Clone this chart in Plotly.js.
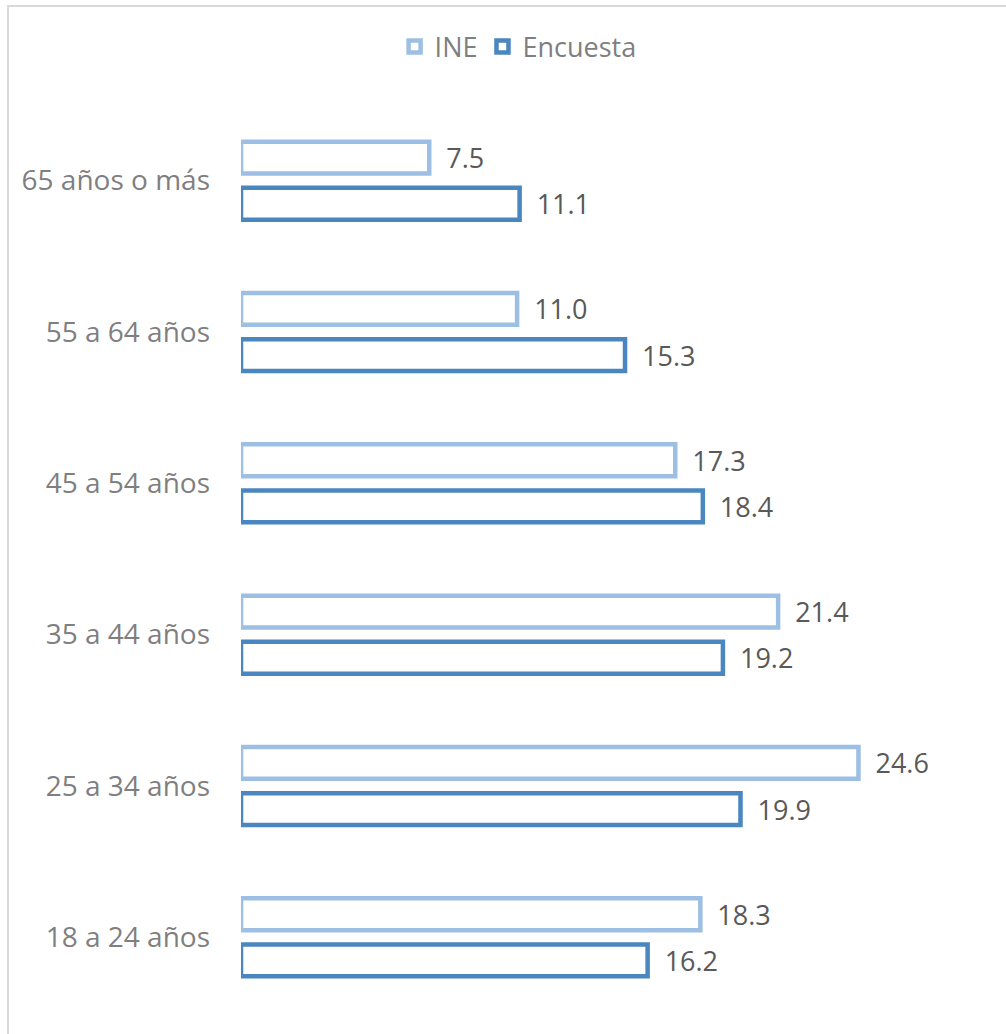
<!DOCTYPE html>
<html>
<head>
<meta charset="utf-8">
<script src="https://cdn.plot.ly/plotly-3.0.1.min.js"></script>
<style>
  html, body { margin: 0; padding: 0; background: #fff; overflow: hidden; }
  #chart { position: absolute; left: 0; top: 0; width: 1006px; height: 1034px; }
  #frame { position: absolute; left: 7px; top: 5px; width: 1200px; height: 1200px;
           border-left: 2px solid #D9D9D9; border-top: 2px solid #D9D9D9; pointer-events: none; }
</style>
</head>
<body>
<div id="chart"></div>
<div id="frame"></div>
<script>
const categories = ["18 a 24 años", "25 a 34 años", "35 a 44 años", "45 a 54 años", "55 a 64 años", "65 años o más"];
const ineValues = [18.3, 24.6, 21.4, 17.3, 11.0, 7.5];
const encuestaValues = [16.2, 19.9, 19.2, 18.4, 15.3, 11.1];
const seriesNames = ["INE", "Encuesta"];

const font = "'Open Sans', 'Noto Sans', sans-serif";
const labelFmt = v => "\u00a0\u00a0" + v.toFixed(1);

const traces = [
  {
    type: "bar", orientation: "h", name: seriesNames[1], legendrank: 2,
    y: categories, x: encuestaValues,
    text: encuestaValues.map(labelFmt), textposition: "outside", constraintext: "none",
    outsidetextfont: { family: font, size: 27, color: "#595959" },
    cliponaxis: false, hoverinfo: "x+y",
    marker: { color: "rgba(255,255,255,1)", line: { color: "#4A86C0", width: 4.5 } }
  },
  {
    type: "bar", orientation: "h", name: seriesNames[0], legendrank: 1,
    y: categories, x: ineValues,
    text: ineValues.map(labelFmt), textposition: "outside", constraintext: "none",
    outsidetextfont: { family: font, size: 27, color: "#595959" },
    cliponaxis: false, hoverinfo: "x+y",
    marker: { color: "rgba(255,255,255,1)", line: { color: "#9DBFE3", width: 4.5 } }
  }
];

const layout = {
  width: 1006, height: 1034,
  margin: { l: 241, r: 12, t: 105, b: 21 },
  paper_bgcolor: "#ffffff", plot_bgcolor: "#ffffff",
  barmode: "group", bargap: 0.39, bargroupgap: 0.31,
  showlegend: true,
  legend: {
    orientation: "h", xref: "container", yref: "container",
    x: 0.515, xanchor: "center", y: 0.9545, yanchor: "middle",
    font: { family: font, size: 27, color: "#7F7F7F" },
    traceorder: "normal"
  },
  xaxis: { range: [0, 30], visible: false, showgrid: false, zeroline: false, fixedrange: true },
  yaxis: {
    type: "category", categoryorder: "array", categoryarray: categories,
    showgrid: false, zeroline: false, showline: false, ticks: "",
    ticklabelstandoff: 30,
    tickfont: { family: font, size: 28, color: "#7F7F7F" }
  }
};

Plotly.newPlot("chart", traces, layout, { displayModeBar: false, staticPlot: true });
</script>
</body>
</html>
